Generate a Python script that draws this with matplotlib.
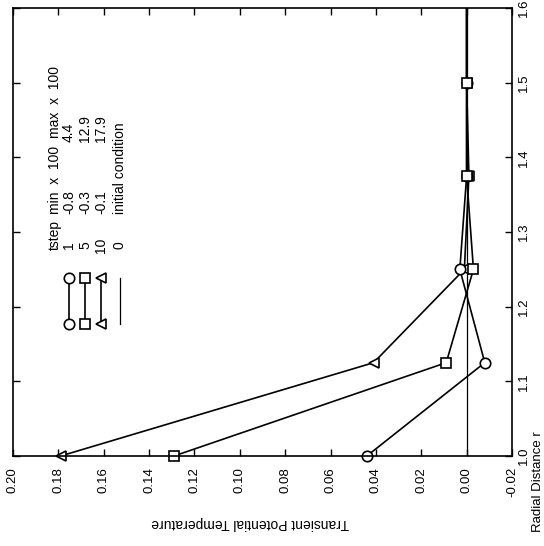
import matplotlib.pyplot as plt
import numpy as np

plt.rcParams['font.family'] = ['Liberation Sans', 'DejaVu Sans']

# --- datos ---
radio = [1.0, 1.125, 1.25, 1.375, 1.5, 1.625]
temp_t1 = [0.044, -0.008, 0.003, 0.0, 0.0, 0.0]
temp_t5 = [0.129, 0.009, -0.003, 0.0, 0.0, 0.0]
temp_t10 = [0.179, 0.041, 0.001, -0.001, 0.0, 0.0]
radio_ini = [1.0, 1.6]
temp_ini = [0.0, 0.0]

tsteps = ['1', '5', '10', '0']
mins = ['-0.8', '-0.3', '-0.1', 'initial condition']
maxs = ['4.4', '12.9', '17.9', '']

temp_ticks = [0.20, 0.18, 0.16, 0.14, 0.12, 0.10, 0.08, 0.06, 0.04, 0.02, 0.00, -0.02]
radio_ticks = [1.0, 1.1, 1.2, 1.3, 1.4, 1.5, 1.6]

W, H = 544, 546
fig = plt.figure(figsize=(W / 100, H / 100), dpi=100)
ax = fig.add_axes([13 / W, 1 - 456 / H, (512 - 13) / W, (456 - 8) / H])

# la figura está girada 90 grados: temperatura en horizontal, radio en vertical
linea = dict(color='black', linewidth=1.2)
marca = dict(linestyle='none', markerfacecolor='white',
             markeredgecolor='black', markeredgewidth=1.2, clip_on=False)
ax.plot(temp_ini, radio_ini, color='black', linewidth=0.9)
series = [(temp_t10, '<', 7.5), (temp_t1, 'o', 7.5), (temp_t5, 's', 6.5)]
for temps, mk, ms in series:
    ax.plot(temps, radio, **linea)
    # marcadores sin recortar (el último punto queda fuera del rango)
    ax.plot(temps[:-1], radio[:-1], marker=mk, markersize=ms, **marca)

ax.set_xlim(0.20, -0.02)
ax.set_ylim(1.0, 1.6)
ax.set_xticks(temp_ticks)
ax.set_xticklabels(['%.2f' % t for t in temp_ticks], rotation=90)
ax.set_yticks(radio_ticks)
ax.set_yticklabels(['%.1f' % r for r in radio_ticks], rotation=90, va='center')
ax.yaxis.tick_right()
ax.tick_params(axis='both', direction='in', length=5, width=1, labelsize=9.5,
               top=True, bottom=True, left=True, right=True)
ax.tick_params(axis='x', pad=8)
ax.tick_params(axis='y', pad=4)
for s in ax.spines.values():
    s.set_linewidth(1.2)

# etiquetas de ejes (giradas)
fig.text(250 / W, 1 - 523 / H, 'Transient Potential Temperature', rotation=180,
         ha='center', va='center', fontsize=10)
fig.text(544 / W, 1 - 482 / H, 'Radial Distance r', rotation=90,
         ha='right', va='center', fontsize=9.5)

# --- leyenda manual girada ---
def fx(px):
    return px / W

def fy(py):
    return 1 - py / H

fs = 10
fig.text(fx(55), fy(250), 'tstep', rotation=90, ha='center', va='bottom', fontsize=fs)
fig.text(fx(55), fy(214), 'min  x  100', rotation=90, ha='center', va='bottom', fontsize=fs)
fig.text(fx(55), fy(138), 'max  x  100', rotation=90, ha='center', va='bottom', fontsize=fs)

filas_x = [69, 85, 101, 120]
marcas = ['o', 's', '<', None]
tam = [7.5, 6.5, 7.5, 0]
for xr, ts, mn, mx, mk, ms in zip(filas_x, tsteps, mins, maxs, marcas, tam):
    fig.text(fx(xr), fy(245), ts, rotation=90, ha='center', va='center', fontsize=fs)
    fig.text(fx(xr), fy(214), mn, rotation=90, ha='center', va='bottom', fontsize=fs)
    if mx:
        fig.text(fx(xr), fy(142), mx, rotation=90, ha='center', va='bottom', fontsize=fs)
    if mk:
        fig.add_artist(plt.Line2D([fx(xr), fx(xr)], [fy(324), fy(278)], marker=mk,
                                  markersize=ms, markerfacecolor='white',
                                  markeredgecolor='black', markeredgewidth=1.2,
                                  transform=fig.transFigure, **linea))
    else:
        fig.add_artist(plt.Line2D([fx(xr), fx(xr)], [fy(324), fy(278)], color='black',
                                  linewidth=0.9, transform=fig.transFigure))

fig.savefig('out.png', dpi=100)
